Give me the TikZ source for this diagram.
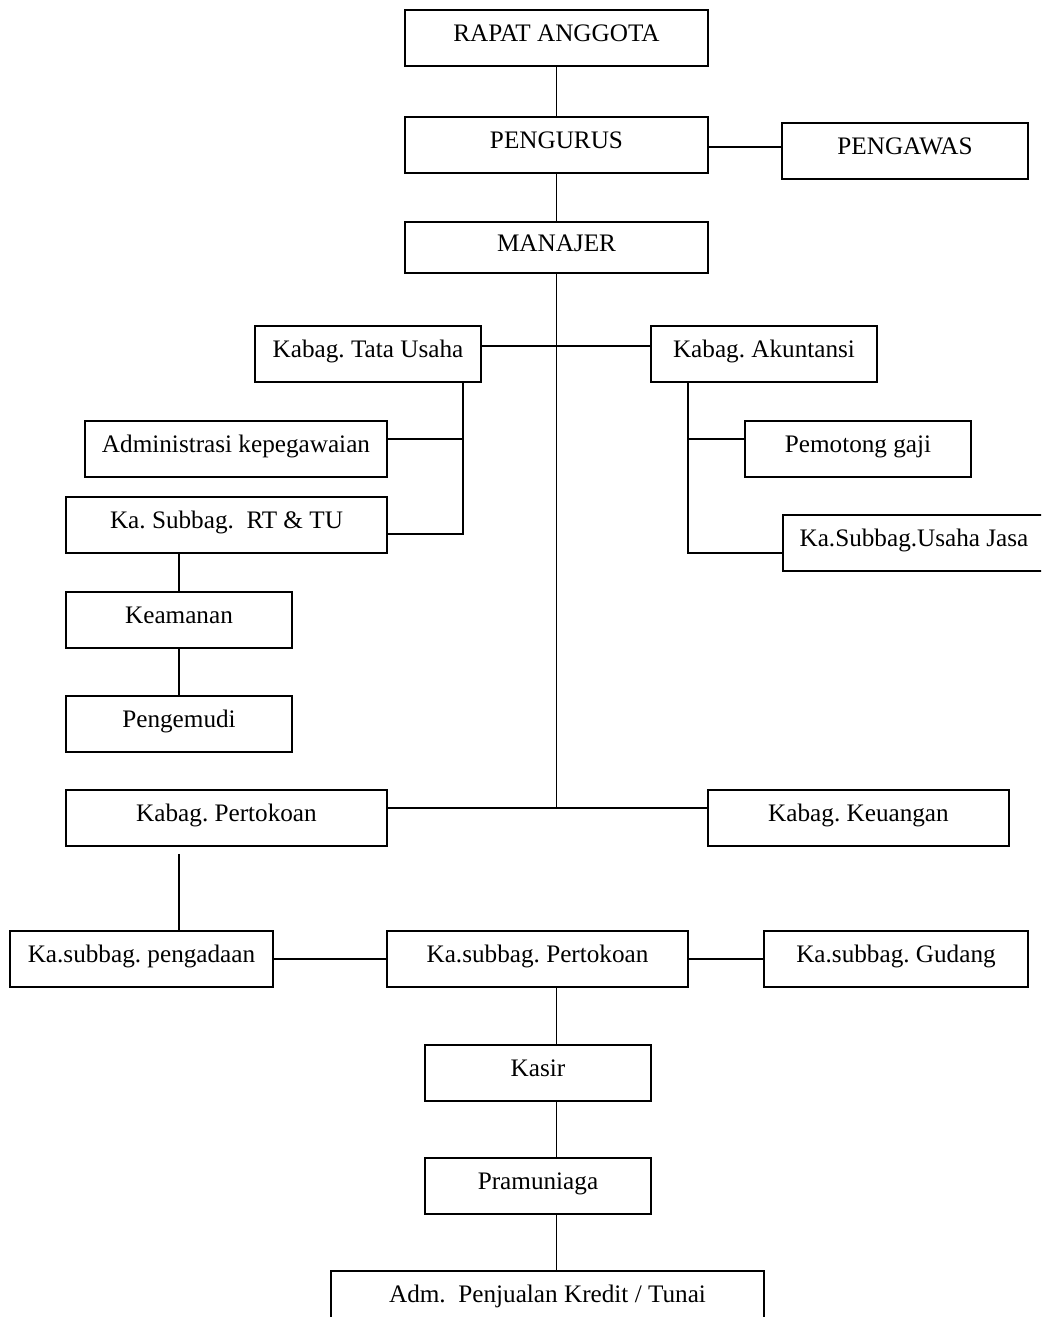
\documentclass[tikz,border=0pt]{standalone}
\usepackage{fontspec}
\setmainfont{Liberation Serif}
\frenchspacing
\begin{document}
\begin{tikzpicture}[x=0.5pt, y=-0.5pt,
    box/.style={draw, line width=0.8pt, inner sep=0pt, minimum height=28pt,
        text height=8.3pt, text depth=4.5pt,
        font=\fontsize{12.6pt}{15pt}\selectfont},
    link/.style={line width=0.8pt}]
    \clip (0,0) rectangle (1041,1317);
    % top of the chart
    \node [box, minimum width=151.5pt] (rapat) at (556.5,38) {RAPAT ANGGOTA};
    \node [box, minimum width=151.5pt] (pengurus) at (556.5,145) {PENGURUS};
    \node [box, minimum width=123pt] (pengawas) at (905,151) {PENGAWAS};
    \node [box, minimum width=151.5pt, minimum height=25.5pt] (manajer) at (556.5,247.5) {MANAJER};
    % heads of sections
    \node [box, minimum width=113pt] (tatausaha) at (368,354) {Kabag. Tata Usaha};
    \node [box, minimum width=113pt] (akuntansi) at (764,354) {Kabag. Akuntansi};
    \node [box, minimum width=151pt] (administrasi) at (236,449) {Administrasi kepegawaian};
    \node [box, minimum width=160.5pt] (rttu) at (226.5,525) {Ka. Subbag.\ ~RT \& TU};
    \node [box, minimum width=113pt] (pemotong) at (858,449) {Pemotong gaji};
    \node [box, minimum width=131pt] (usahajasa) at (914,543) {Ka.Subbag.Usaha Jasa};
    \node [box, minimum width=113pt] (keamanan) at (179,620) {Keamanan};
    \node [box, minimum width=113pt] (pengemudi) at (179,724) {Pengemudi};
    \node [box, minimum width=160.5pt] (kabtoko) at (226.5,818) {Kabag. Pertokoan};
    \node [box, minimum width=150.5pt] (keuangan) at (858.5,818) {Kabag. Keuangan};
    % shop
    \node [box, minimum width=131.5pt] (pengadaan) at (141.5,959) {Ka.subbag. pengadaan};
    \node [box, minimum width=150.5pt] (subtoko) at (537.5,959) {Ka.subbag. Pertokoan};
    \node [box, minimum width=132pt] (gudang) at (896,959) {Ka.subbag. Gudang};
    \node [box, minimum width=113pt] (kasir) at (538,1073) {Kasir};
    \node [box, minimum width=113pt] (pramuniaga) at (538,1186) {Pramuniaga};
    \node [box, minimum width=216.5pt] (adm) at (547.5,1299) {Adm.\ ~Penjualan Kredit / Tunai};
    % connectors
    \draw [link] (rapat.south) -- (pengurus.north);
    \draw [link] (pengurus.south) -- (manajer.north);
    \coordinate (awasline) at ([yshift=-1pt]pengurus.east);
    \draw [link] (awasline) -- (awasline -| pengawas.west);
    \coordinate (tokoline) at ([yshift=5pt]kabtoko.east);
    \draw [link] (manajer.south) -- (manajer.south |- tokoline);
    \draw [link] (tokoline) -- (tokoline -| keuangan.west);
    \coordinate (kabagline) at ([yshift=4pt]tatausaha.east);
    \draw [link] (kabagline) -- (kabagline -| akuntansi.west);
    \coordinate (tubranch) at ([xshift=-9.5pt]tatausaha.south east);
    \coordinate (admline) at ([yshift=5pt]administrasi.east);
    \coordinate (rtline) at ([yshift=-4.5pt]rttu.east);
    \draw [link] (tubranch) |- (rtline);
    \draw [link] (admline) -- (admline -| tubranch);
    \coordinate (akbranch) at ([xshift=19pt]akuntansi.south west);
    \coordinate (gajiline) at ([yshift=5pt]pemotong.west);
    \coordinate (jasaline) at ([yshift=-5pt]usahajasa.west);
    \draw [link] (akbranch) |- (jasaline);
    \draw [link] (gajiline) -- (gajiline -| akbranch);
    \draw [link] (keamanan.north |- rttu.south) -- (keamanan.north);
    \draw [link] (keamanan.south) -- (pengemudi.north);
    \coordinate (adabranch) at ([xshift=-23.75pt, yshift=-3.5pt]kabtoko.south);
    \draw [link] (adabranch) -- (adabranch |- pengadaan.north);
    \draw [link] (pengadaan.east) -- (subtoko.west);
    \draw [link] (subtoko.east) -- (gudang.west);
    \coordinate (jualline) at ([xshift=9.5pt]subtoko.south);
    \draw [link] (jualline) -- (jualline |- kasir.north);
    \draw [link] (jualline |- kasir.south) -- (jualline |- pramuniaga.north);
    \draw [link] (jualline |- pramuniaga.south) -- (jualline |- adm.north);
\end{tikzpicture}
\end{document}
